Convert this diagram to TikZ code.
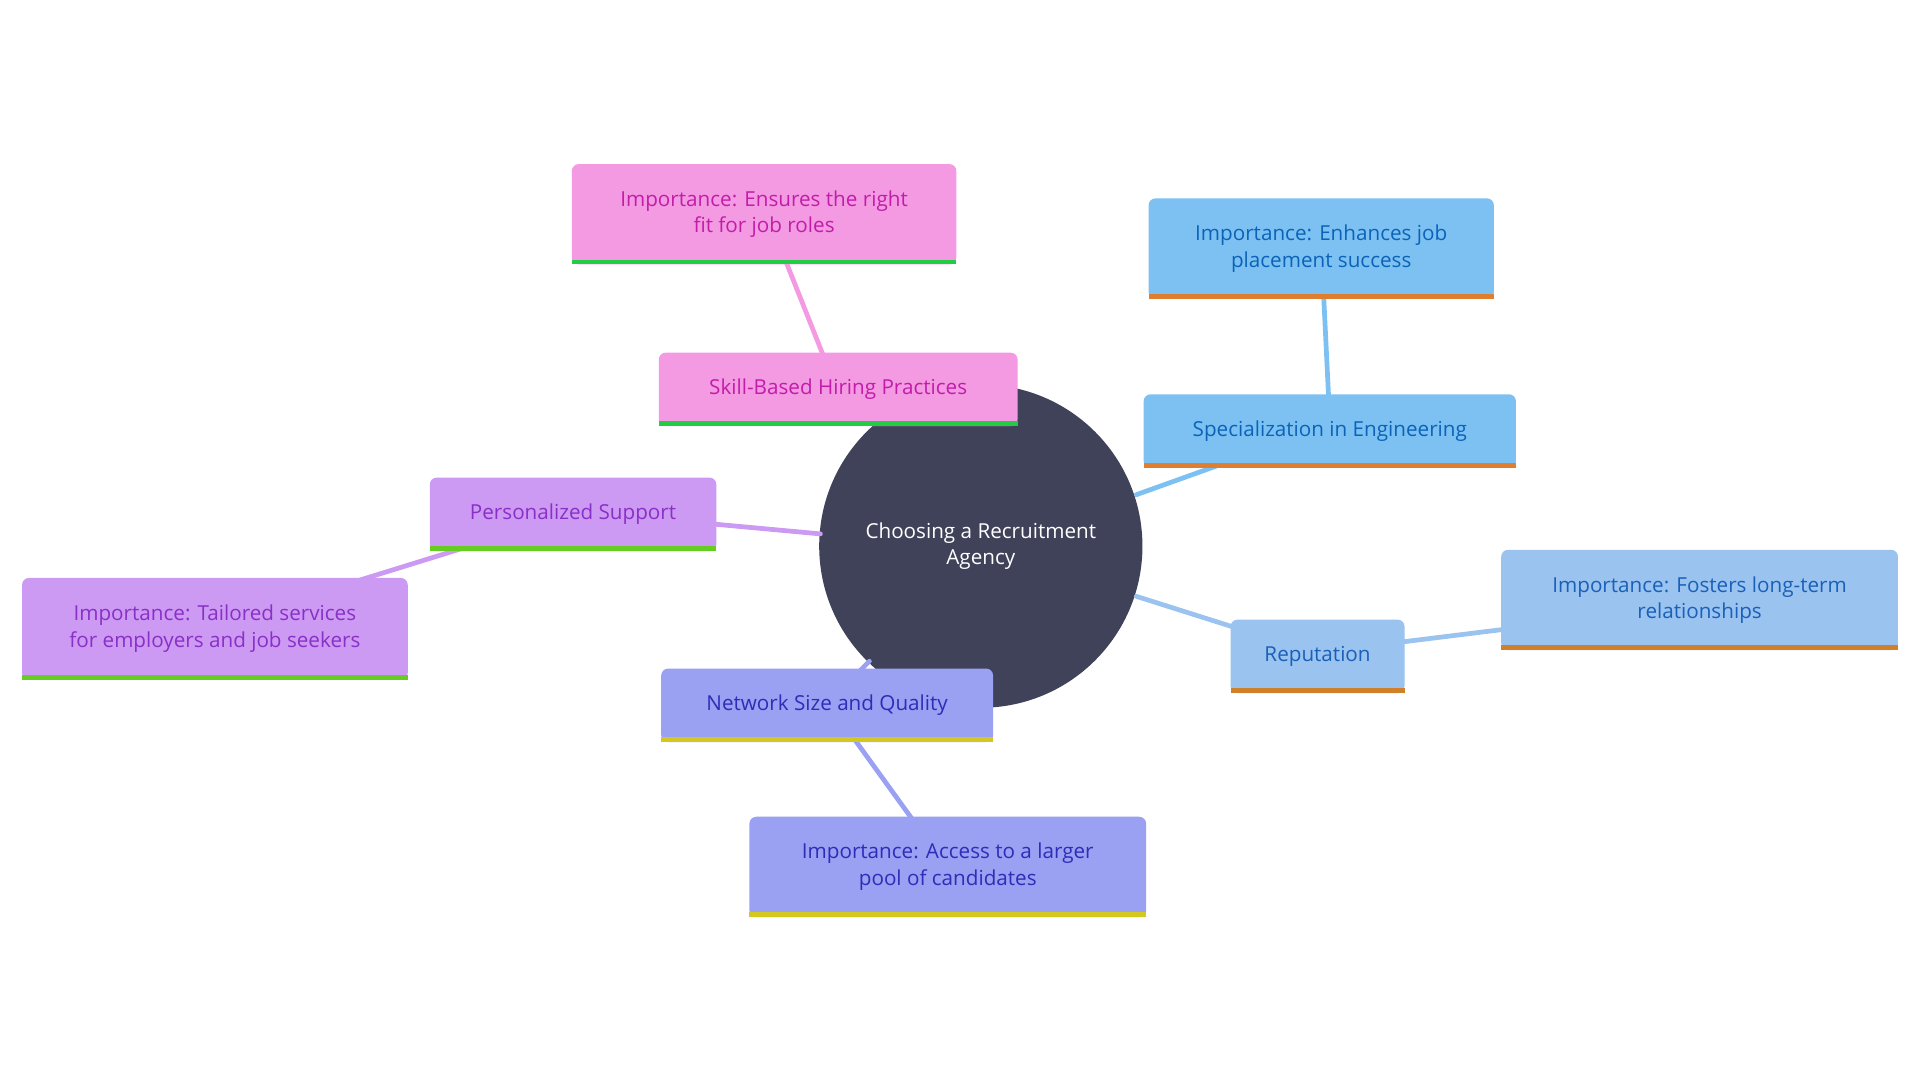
\documentclass[tikz,border=0pt]{standalone}
\usepackage{fontspec}
\setmainfont{Open Sans}
\definecolor{ctr}{HTML}{404259}
\definecolor{pkF}{HTML}{F39AE3}\definecolor{pkT}{HTML}{C21DA8}\definecolor{pkB}{HTML}{22CC44}
\definecolor{blF}{HTML}{7DC1F2}\definecolor{blT}{HTML}{0B63B8}\definecolor{blB}{HTML}{E07E30}
\definecolor{lbF}{HTML}{9AC3F0}\definecolor{lbT}{HTML}{1A60B8}\definecolor{lbB}{HTML}{D08028}
\definecolor{inF}{HTML}{9AA0F2}\definecolor{inT}{HTML}{2D2DB8}\definecolor{inB}{HTML}{D4C820}
\definecolor{vpF}{HTML}{CC9AF2}\definecolor{vpT}{HTML}{8A2FC8}\definecolor{vpB}{HTML}{66CC22}
\tikzset{edge/.style={line width=5.5pt,line cap=round},
 boxstyle/.style={rounded corners=8pt,inner sep=0pt,align=center,font=\fontsize{24}{31}\selectfont}}
\newcommand\bx[9]{%
 \node[boxstyle,fill=#6,text=#7,minimum width={(#4-#2)*0.05cm},minimum height={(#5-#3)*0.05cm}] (#1) at ({(#2+#4)/2},{(#3+#5)/2}) {#9};
 \fill[#8] (#2,#5) rectangle (#4,#5-4);}
\begin{document}
\begin{tikzpicture}[x=0.05cm,y=-0.05cm]
\useasboundingbox (0,0) rectangle (1568,882);
\node[circle,fill=ctr,minimum size=13.2cm,text=white,align=center,font=\fontsize{24}{31}\selectfont] (c) at (801,446) {Choosing a Recruitment\\Agency};
\coordinate (s1) at (673,292); \coordinate (s2) at (642,214);
\coordinate (p1) at (1085,324); \coordinate (p2) at (1081,242);
\coordinate (r1) at (1147,524); \coordinate (r2) at (1228,514);
\coordinate (n1) at (698,604); \coordinate (n2) at (745,669);
\coordinate (v1) at (377,448); \coordinate (v2) at (293,474);
\draw[edge,pkF] (c.north) ++(-100,-10) -- (s1);
\draw[edge,pkF] (s1) -- (s2);
\draw[edge,blF] (c.center) ++(127,-42) -- (995,380);
\draw[edge,blF] (p1) -- (p2);
\draw[edge,lbF] (c.center) ++(127,41) -- (1007,512);
\draw[edge,lbF] (r1) -- (r2);
\draw[edge,inF] (c.center) ++(-91,94) -- (690,560);
\draw[edge,inF] (n1) -- (n2);
\draw[edge,vpF] (c.center) ++(-131,-10) -- (583,428);
\draw[edge,vpF] (v1) -- (v2);
\bx{sk}{538}{288}{831}{348}{pkF}{pkT}{pkB}{Skill-Based Hiring Practices}
\bx{ski}{467}{134}{781}{216}{pkF}{pkT}{pkB}{Importance: Ensures the right\\fit for job roles}
\bx{sp}{934}{322}{1238}{382}{blF}{blT}{blB}{Specialization in Engineering}
\bx{spi}{938}{162}{1220}{244}{blF}{blT}{blB}{Importance: Enhances job\\placement success}
\bx{re}{1005}{506}{1147}{566}{lbF}{lbT}{lbB}{Reputation}
\bx{rei}{1226}{449}{1550}{531}{lbF}{lbT}{lbB}{Importance: Fosters long-term\\relationships}
\bx{ne}{540}{546}{811}{606}{inF}{inT}{inB}{Network Size and Quality}
\bx{nei}{612}{667}{936}{749}{inF}{inT}{inB}{Importance: Access to a larger\\pool of candidates}
\bx{pe}{351}{390}{585}{450}{vpF}{vpT}{vpB}{Personalized Support}
\bx{pei}{18}{472}{333}{555}{vpF}{vpT}{vpB}{Importance: Tailored services\\for employers and job seekers}
\end{tikzpicture}
\end{document}
